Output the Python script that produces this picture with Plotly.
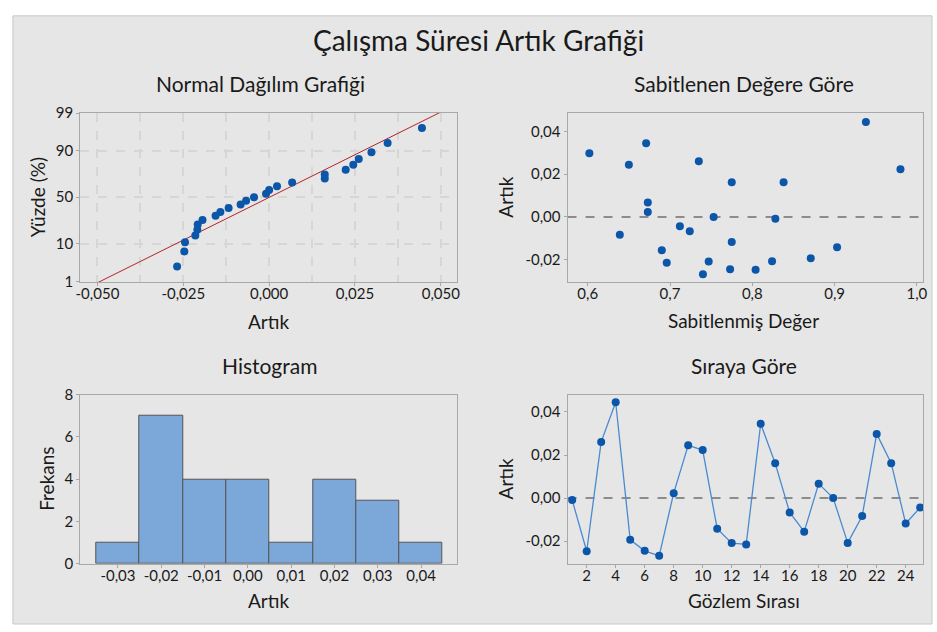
import plotly.graph_objects as go
from statistics import NormalDist
import numpy as np

# Residuals and fitted values, one entry per observation (order 1..25)
observation = list(range(1, 26))
residual = [-0.0009, -0.0247, 0.0261, 0.0445, -0.0194, -0.0245, -0.0268, 0.0023,
            0.0245, 0.0223, -0.0142, -0.0209, -0.0215, 0.0345, 0.0162, -0.0067,
            -0.0156, 0.0067, 0.0000, -0.0208, -0.0083, 0.0298, 0.0162, -0.0118,
            -0.0044]
fitted = [0.828, 0.804, 0.735, 0.938, 0.871, 0.773, 0.740, 0.673,
          0.650, 0.980, 0.903, 0.747, 0.696, 0.671, 0.775, 0.724,
          0.690, 0.673, 0.753, 0.824, 0.639, 0.602, 0.838, 0.775,
          0.712]

# Tick labels
pct_ticks = [1, 10, 50, 90, 99]
pct_labels = ["1", "10", "50", "90", "99"]
npp_x_ticks = [-0.05, -0.025, 0.0, 0.025, 0.05]
npp_x_labels = ["-0,050", "-0,025", "0,000", "0,025", "0,050"]
res_ticks = [-0.02, 0.0, 0.02, 0.04]
res_labels = ["-0,02", "0,00", "0,02", "0,04"]
fit_ticks = [0.6, 0.7, 0.8, 0.9, 1.0]
fit_labels = ["0,6", "0,7", "0,8", "0,9", "1,0"]
hist_ticks = [-0.03, -0.02, -0.01, 0.0, 0.01, 0.02, 0.03, 0.04]
hist_labels = ["-0,03", "-0,02", "-0,01", "0,00", "0,01", "0,02", "0,03", "0,04"]
freq_ticks = [0, 2, 4, 6, 8]
order_ticks = list(range(2, 25, 2))

W, H = 937, 632
BG = "#e6e6e6"
DOT = "#0b56a8"
TXT = "#1a1a1a"
FONT = "Lato"

nd = NormalDist()
res = np.array(residual)
n = len(res)
srt = np.sort(res)
# median ranks for the probability plot
z_pts = [nd.inv_cdf((i + 1 - 0.3) / (n + 0.4)) for i in range(n)]
mu, sd = res.mean(), res.std(ddof=1)
z_line = np.linspace(-2.6, 2.6, 60)
x_line = mu + sd * z_line

fig = go.Figure()

# Normal probability plot
fig.add_trace(go.Scatter(x=x_line, y=z_line, mode="lines",
                         line=dict(color="#b4232a", width=1),
                         xaxis="x", yaxis="y", hoverinfo="skip"))
fig.add_trace(go.Scatter(x=srt, y=z_pts, mode="markers",
                         marker=dict(color=DOT, size=8),
                         xaxis="x", yaxis="y"))

# Residuals versus fitted values
fig.add_trace(go.Scatter(x=fitted, y=residual, mode="markers",
                         marker=dict(color=DOT, size=8),
                         xaxis="x2", yaxis="y2"))

# Histogram
fig.add_trace(go.Histogram(x=residual,
                           xbins=dict(start=-0.035, end=0.045, size=0.01),
                           marker=dict(color="#7ba7d9",
                                       line=dict(color="#555555", width=1)),
                           xaxis="x3", yaxis="y3"))

# Residuals versus observation order
fig.add_trace(go.Scatter(x=observation, y=residual, mode="lines+markers",
                         line=dict(color="#4a8ad0", width=1.3),
                         marker=dict(color=DOT, size=8),
                         xaxis="x4", yaxis="y4"))


def px_x(p):
    return p / W


def px_y(p):
    return 1 - p / H


left_dom = [px_x(76), px_x(456)]
right_dom = [px_x(568), px_x(927)]
top_dom = [px_y(280), px_y(106)]
bot_dom = [px_y(570), px_y(396)]

axis_common = dict(showline=True, linecolor="#a8a8a8", linewidth=1, mirror=True,
                   ticks="outside", ticklen=3, tickcolor="#a8a8a8",
                   tickfont=dict(family=FONT, size=15, color=TXT),
                   zeroline=False, showgrid=False, tickmode="array")
# x tick labels sit close under the frame
x_common = {**axis_common, "ticklabelstandoff": -5}

grid = dict(gridcolor="#d6d6d6", gridwidth=1.5, griddash="dash")

z_ticks = [nd.inv_cdf(p / 100) for p in pct_ticks]

fig.update_layout(
    width=W, height=H,
    margin=dict(l=0, r=0, t=0, b=0),
    paper_bgcolor="white", plot_bgcolor="white",
    showlegend=False, bargap=0,
    xaxis=dict(domain=left_dom, anchor="y", range=[-0.055, 0.0546],
               tickvals=npp_x_ticks, ticktext=npp_x_labels,
               minor=dict(tick0=0, dtick=0.0125, showgrid=True, ticklen=0, **grid),
               **grid, **{**x_common, "showgrid": True}),
    yaxis=dict(domain=top_dom, anchor="x", range=[-2.345, 2.33],
               tickvals=z_ticks, ticktext=pct_labels,
               **grid, **{**axis_common, "showgrid": True}),
    xaxis2=dict(domain=right_dom, anchor="y2", range=[0.5755, 1.0075],
                tickvals=fit_ticks, ticktext=fit_labels, **x_common),
    yaxis2=dict(domain=top_dom, anchor="x2", range=[-0.0305, 0.0487],
                tickvals=res_ticks, ticktext=res_labels, **axis_common),
    xaxis3=dict(domain=left_dom, anchor="y3", range=[-0.0387, 0.0482],
                tickvals=hist_ticks, ticktext=hist_labels, **x_common),
    yaxis3=dict(domain=bot_dom, anchor="x3", range=[0, 8],
                tickvals=freq_ticks, ticktext=[str(v) for v in freq_ticks],
                **axis_common),
    xaxis4=dict(domain=right_dom, anchor="y4", range=[0.68, 25.2],
                tickvals=order_ticks, ticktext=[str(v) for v in order_ticks],
                **x_common),
    yaxis4=dict(domain=bot_dom, anchor="x4", range=[-0.0305, 0.048],
                tickvals=res_ticks, ticktext=res_labels, **axis_common),
)

# Grey panel behind the four plots, and zero reference lines
fig.add_shape(type="rect", xref="paper", yref="paper",
              x0=px_x(8), x1=px_x(936), y0=0, y1=px_y(6),
              fillcolor=BG, line=dict(color="#c8c8c8", width=1), layer="below")
for xa, ya in (("x2", "y2"), ("x4", "y4")):
    fig.add_shape(type="line", xref=f"{xa} domain", yref=ya,
                  x0=0, x1=1, y0=0, y1=0,
                  line=dict(color="#8c8c8c", width=2, dash="dash"), layer="below")


def label(text, x, y, size, angle=0):
    fig.add_annotation(text=text, xref="paper", yref="paper",
                       x=px_x(x), y=px_y(y), xanchor="center", yanchor="middle",
                       showarrow=False, textangle=angle,
                       font=dict(family=FONT, size=size, color=TXT))


label("Çalışma Süresi Artık Grafiği", 478, 31, 28)
label("Normal Dağılım Grafiği", 258, 76, 21)
label("Sabitlenen Değere Göre", 746, 76, 21)
label("Histogram", 267, 366, 21)
label("Sıraya Göre", 746, 366, 21)

label("Artık", 266, 321, 19)
label("Sabitlenmiş Değer", 746, 320, 19)
label("Artık", 266, 608, 19)
label("Gözlem Sırası", 746, 608, 19)
label("Yüzde (%)", 33, 193, 19, -90)
label("Artık", 505, 193, 19, -90)
label("Frekans", 42, 483, 19, -90)
label("Artık", 505, 483, 19, -90)

fig.write_html("out.html")
